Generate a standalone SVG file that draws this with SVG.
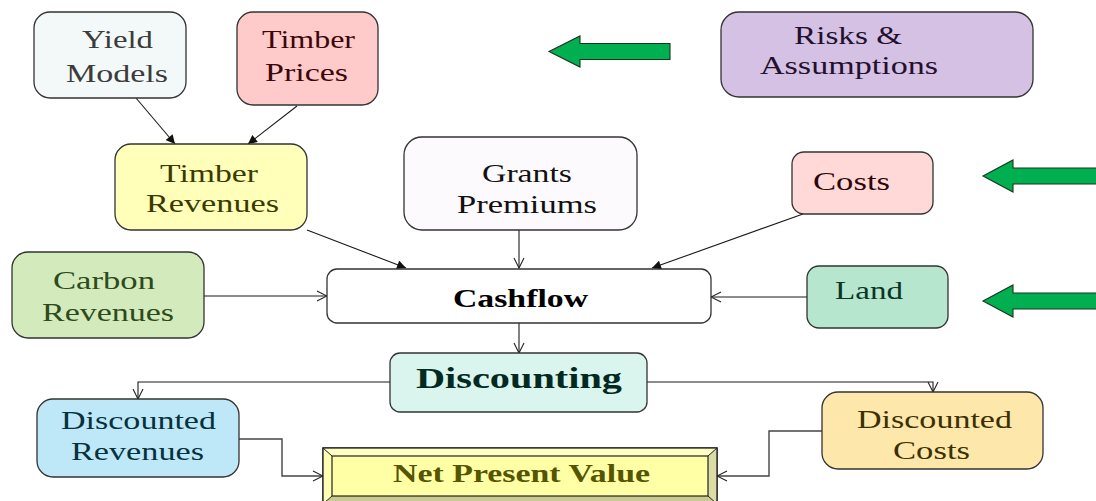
<svg xmlns="http://www.w3.org/2000/svg" width="1096" height="501" viewBox="0 0 1096 501">
  <defs>
    <marker id="solid" viewBox="0 0 10 10" refX="10" refY="5" markerWidth="10" markerHeight="9" markerUnits="userSpaceOnUse" orient="auto">
      <path d="M0,0 L10,5 L0,10 Z" fill="#111"/>
    </marker>
    <marker id="open" viewBox="0 0 12 12" refX="11" refY="6" markerWidth="12" markerHeight="12" markerUnits="userSpaceOnUse" orient="auto">
      <path d="M1,1 L11,6 L1,11" fill="none" stroke="#222" stroke-width="1.1"/>
    </marker>
  </defs>
  <style>
    .box { stroke: #333; stroke-width: 1.3; }
    .t { font-family: "Liberation Serif", "Times New Roman", serif; font-size: 25px; }
    .b { font-family: "Liberation Serif", "Times New Roman", serif; font-weight: bold; }
    .ln { fill: none; stroke: #1a1a1a; stroke-width: 1.1; }
    .ln2 { fill: none; stroke: #444; stroke-width: 1.4; }
    .gr { fill: #00b050; stroke: #1d3320; stroke-width: 1.1; }
  </style>

  <rect width="1096" height="501" fill="#ffffff"/>

  <!-- connectors -->
  <g id="connectors">
    <line class="ln" x1="136" y1="98" x2="175" y2="144" marker-end="url(#solid)"/>
    <line class="ln" x1="297" y1="106" x2="248" y2="144" marker-end="url(#solid)"/>
    <line class="ln" x1="307" y1="230" x2="406" y2="268" marker-end="url(#solid)"/>
    <line class="ln" x1="519" y1="230" x2="519" y2="268" marker-end="url(#open)"/>
    <line class="ln" x1="803" y1="214" x2="652" y2="268" marker-end="url(#solid)"/>
    <line class="ln" x1="204" y1="296" x2="327" y2="296" marker-end="url(#open)"/>
    <line class="ln" x1="807" y1="297" x2="711" y2="297" marker-end="url(#open)"/>
    <line class="ln" x1="519" y1="323" x2="519" y2="353" marker-end="url(#open)"/>
    <polyline class="ln" points="390,382 138,382 138,399" marker-end="url(#open)"/>
    <polyline class="ln" points="647,382 933,382 933,392" marker-end="url(#open)"/>
    <polyline class="ln2" points="239,439 282,439 282,476 323,476" marker-end="url(#open)"/>
    <polyline class="ln2" points="822,431 769,431 769,476 717,476" marker-end="url(#open)"/>
  </g>

  <!-- green pointer arrows -->
  <g id="pointers">
    <path class="gr" d="M549,51.5 L580,36 L580,43.5 L670,43.5 L670,59.5 L580,59.5 L580,67 Z"/>
    <path class="gr" d="M983,176 L1013,160 L1013,168 L1100,168 L1100,184 L1013,184 L1013,192 Z"/>
    <path class="gr" d="M983,301 L1013,285 L1013,293 L1100,293 L1100,309 L1013,309 L1013,317 Z"/>
  </g>

  <g id="yield-models">
    <rect class="box" x="34" y="12" width="152" height="86" rx="16" fill="#f3f9f9"/>
    <text class="t" x="82" y="48" fill="#3c3c3c" textLength="71" lengthAdjust="spacingAndGlyphs">Yield</text>
    <text class="t" x="66" y="82" fill="#3c3c3c" textLength="102" lengthAdjust="spacingAndGlyphs">Models</text>
  </g>

  <g id="timber-prices">
    <rect class="box" x="237" y="12" width="141" height="93" rx="16" fill="#ffcaca"/>
    <text class="t" x="262" y="48" fill="#3a0808" textLength="93" lengthAdjust="spacingAndGlyphs">Timber</text>
    <text class="t" x="265" y="81" fill="#3a0808" textLength="83" lengthAdjust="spacingAndGlyphs">Prices</text>
  </g>

  <g id="risks">
    <rect class="box" x="721" y="12" width="312" height="85" rx="18" fill="#d5c1e3"/>
    <text class="t" x="794" y="44" fill="#22102e" textLength="108" lengthAdjust="spacingAndGlyphs">Risks &amp;</text>
    <text class="t" x="760" y="74" fill="#22102e" textLength="178" lengthAdjust="spacingAndGlyphs">Assumptions</text>
  </g>

  <g id="timber-revenues">
    <rect class="box" x="115" y="144" width="192" height="86" rx="16" fill="#ffffb9"/>
    <text class="t" x="160" y="182" fill="#3a3a00" textLength="98" lengthAdjust="spacingAndGlyphs">Timber</text>
    <text class="t" x="146" y="212" fill="#3a3a00" textLength="133" lengthAdjust="spacingAndGlyphs">Revenues</text>
  </g>

  <g id="grants">
    <rect class="box" x="404" y="137" width="233" height="93" rx="18" fill="#fdfafd"/>
    <text class="t" x="482" y="182" fill="#111" textLength="90" lengthAdjust="spacingAndGlyphs">Grants</text>
    <text class="t" x="457" y="213" fill="#111" textLength="140" lengthAdjust="spacingAndGlyphs">Premiums</text>
  </g>

  <g id="costs">
    <rect class="box" x="792" y="152" width="141" height="62" rx="12" fill="#ffd8d8"/>
    <text class="t" x="813" y="190" fill="#2e0606" textLength="77" lengthAdjust="spacingAndGlyphs">Costs</text>
  </g>

  <g id="carbon">
    <rect class="box" x="12" y="252" width="192" height="86" rx="16" fill="#d3eabc"/>
    <text class="t" x="53" y="289" fill="#2c4a1c" textLength="102" lengthAdjust="spacingAndGlyphs">Carbon</text>
    <text class="t" x="42" y="321" fill="#2c4a1c" textLength="132" lengthAdjust="spacingAndGlyphs">Revenues</text>
  </g>

  <g id="cashflow">
    <rect class="box" x="327" y="269" width="384" height="54" rx="10" fill="#ffffff"/>
    <text class="b" x="453" y="307" font-size="26" fill="#000" textLength="135" lengthAdjust="spacingAndGlyphs">Cashflow</text>
  </g>

  <g id="land">
    <rect class="box" x="807" y="266" width="141" height="62" rx="12" fill="#b7e6cf"/>
    <text class="t" x="835" y="299" fill="#0b3626" textLength="68" lengthAdjust="spacingAndGlyphs">Land</text>
  </g>

  <g id="discounting">
    <rect class="box" x="390" y="353" width="257" height="59" rx="10" fill="#d9f5ee"/>
    <text class="b" x="416" y="388" font-size="30" fill="#032a20" textLength="206" lengthAdjust="spacingAndGlyphs">Discounting</text>
  </g>

  <g id="discounted-revenues">
    <rect class="box" x="37" y="399" width="202" height="78" rx="16" fill="#bee8f8"/>
    <text class="t" x="61" y="429" fill="#06323e" textLength="155" lengthAdjust="spacingAndGlyphs">Discounted</text>
    <text class="t" x="71" y="460" fill="#06323e" textLength="133" lengthAdjust="spacingAndGlyphs">Revenues</text>
  </g>

  <g id="discounted-costs">
    <rect class="box" x="822" y="392" width="221" height="77" rx="16" fill="#fde7aa"/>
    <text class="t" x="857" y="428" fill="#3c3000" textLength="155" lengthAdjust="spacingAndGlyphs">Discounted</text>
    <text class="t" x="893" y="459" fill="#3c3000" textLength="77" lengthAdjust="spacingAndGlyphs">Costs</text>
  </g>

  <!-- bevelled result panel -->
  <g id="net-present-value">
    <rect x="323" y="448" width="394" height="56" fill="#ffffa8" stroke="#222" stroke-width="1.3"/>
    <polygon points="323,448 717,448 708,456 332,456" fill="#ffffc4"/>
    <polygon points="323,448 332,456 332,496 323,504" fill="#ffffb4"/>
    <polygon points="717,448 708,456 708,496 717,504" fill="#dcdca6"/>
    <polygon points="323,504 332,496 708,496 717,504" fill="#c9c992"/>
    <rect x="332" y="456" width="376" height="40" fill="#ffffa6" stroke="#222" stroke-width="1.2"/>
    <line x1="323" y1="448" x2="332" y2="456" stroke="#222" stroke-width="1"/>
    <line x1="717" y1="448" x2="708" y2="456" stroke="#222" stroke-width="1"/>
    <line x1="323" y1="504" x2="332" y2="496" stroke="#222" stroke-width="1"/>
    <line x1="717" y1="504" x2="708" y2="496" stroke="#222" stroke-width="1"/>
    <rect x="323" y="448" width="394" height="56" fill="none" stroke="#222" stroke-width="1.3"/>
    <text class="b" x="393" y="482" font-size="26" fill="#555500" textLength="257" lengthAdjust="spacingAndGlyphs">Net Present Value</text>
  </g>
</svg>
